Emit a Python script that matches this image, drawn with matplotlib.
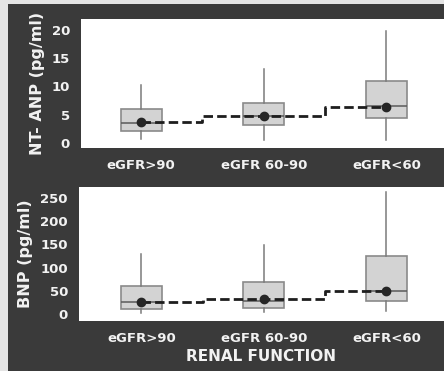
import matplotlib
matplotlib.use("Agg")
import matplotlib.pyplot as plt
from matplotlib.patches import Rectangle

# Renal function groups
groups = ["eGFR>90", "eGFR 60-90", "eGFR<60"]

# NT-ANP (pg/ml) box statistics per group
anp_whislo = [0.7, 0.5, 0.5]
anp_q1 = [2.1, 3.1, 4.4]
anp_median = [3.6, 4.8, 6.5]
anp_q3 = [6.0, 7.1, 10.9]
anp_whishi = [10.3, 13.1, 19.8]
anp_mean = [3.7, 4.7, 6.4]

# BNP (pg/ml) box statistics per group
bnp_whislo = [2, 3.5, 6]
bnp_q1 = [10.7, 14, 28.5]
bnp_median = [27, 28.5, 50]
bnp_q3 = [60.7, 69, 125]
bnp_whishi = [130, 148, 263]
bnp_mean = [27, 32, 50]

anp_ticks = [0, 5, 10, 15, 20]
bnp_ticks = [0, 50, 100, 150, 200, 250]

W, H = 444, 371
DARK = "#3a3a3a"
TXT = "#f2f2f2"

fig = plt.figure(figsize=(W / 100, H / 100), dpi=100)
fig.patch.set_facecolor("#e4e4e4")
fig.add_artist(Rectangle((8 / W, 0), 1, 1 - 4 / H, transform=fig.transFigure,
                         facecolor=DARK, edgecolor="none", zorder=0))


def panel(rect, whislo, q1, med, q3, whishi, mean, ticks, ylim, xlim, ylabel):
    ax = fig.add_axes(rect)
    ax.set_facecolor("white")
    stats = []
    for i, g in enumerate(groups):
        stats.append(dict(label=g, whislo=whislo[i], q1=q1[i], med=med[i],
                          q3=q3[i], whishi=whishi[i], fliers=[]))
    pos = [1, 2, 3]
    ax.bxp(stats, positions=pos, widths=0.335, patch_artist=True,
           showcaps=False, showfliers=False,
           boxprops=dict(facecolor="#d3d3d3", edgecolor="#8a8a8a", linewidth=1.2),
           whiskerprops=dict(color="#7a7a7a", linewidth=1.1),
           medianprops=dict(color="#5a5a5a", linewidth=1.1))
    ax.plot(pos, mean, drawstyle="steps-mid", color="#1e1e1e", linewidth=2,
            linestyle=(0, (3.4, 1.5)), zorder=4)
    ax.plot(pos, mean, "o", color="#262626", markersize=6, zorder=5)
    ax.set_xlim(*xlim)
    ax.set_ylim(*ylim)
    ax.set_yticks(ticks)
    ax.set_yticklabels([str(t) for t in ticks])
    ax.set_xticks(pos)
    ax.set_xticklabels(groups)
    for s in ax.spines.values():
        s.set_visible(False)
    ax.tick_params(length=0, colors=TXT, labelsize=9.5, pad=8)
    for lab in ax.get_xticklabels() + ax.get_yticklabels():
        lab.set_fontweight("bold")
    ax.set_ylabel(ylabel, color=TXT, fontsize=11.5, fontweight="bold", labelpad=5)
    return ax


ax1 = panel([81 / W, (H - 148) / H, 363 / W, 129 / H],
            anp_whislo, anp_q1, anp_median, anp_q3, anp_whishi, anp_mean,
            anp_ticks, (-0.9, 21.9), (0.51, 3.47), "NT- ANP (pg/ml)")
ax2 = panel([79 / W, (H - 321) / H, 365 / W, 134 / H],
            bnp_whislo, bnp_q1, bnp_median, bnp_q3, bnp_whishi, bnp_mean,
            bnp_ticks, (-15, 274), (0.49, 3.47), "BNP (pg/ml)")
ax2.set_xlabel("RENAL FUNCTION", color=TXT, fontsize=11, fontweight="bold",
               labelpad=3)

fig.savefig("out.png", dpi=100, facecolor=fig.get_facecolor())
